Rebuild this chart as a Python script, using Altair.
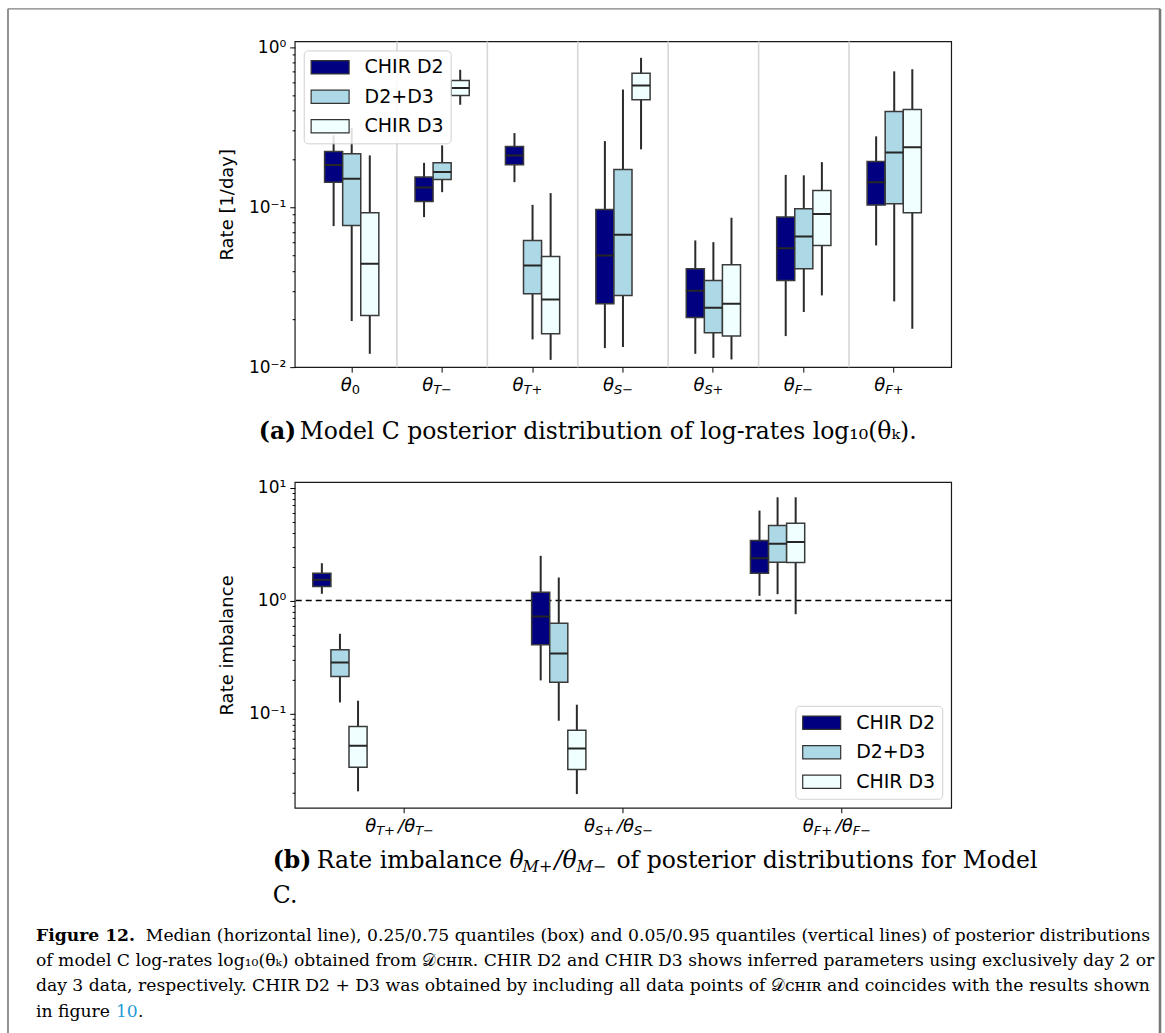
import altair as alt
import pandas as pd

# ---------------- data ----------------
series = ["CHIR D2", "D2+D3", "CHIR D3"]
fill_colors = ["#000080", "#add8e6", "#f0ffff"]

top_params = ["θ0", "θT−", "θT+", "θS−", "θS+", "θF−", "θF+"]
top_subs = ["0", "T−", "T+", "S−", "S+", "F−", "F+"]

top_lo = {
    "CHIR D2": [0.0761, 0.0866, 0.1432, 0.01315, 0.01211, 0.01563, 0.0576],
    "D2+D3": [0.0194, 0.124, 0.0149, 0.01334, 0.01143, 0.0221, 0.02576],
    "CHIR D3": [0.01211, 0.436, 0.0111, 0.2296, 0.01117, 0.02806, 0.01735],
}
top_q1 = {
    "CHIR D2": [0.1432, 0.1085, 0.1838, 0.0249, 0.02046, 0.0348, 0.1029],
    "D2+D3": [0.0768, 0.149, 0.0287, 0.02806, 0.01638, 0.0412, 0.105],
    "CHIR D3": [0.02105, 0.499, 0.01615, 0.469, 0.01563, 0.0576, 0.0921],
}
top_med = {
    "CHIR D2": [0.1831, 0.1328, 0.2104, 0.0499, 0.030, 0.0554, 0.1432],
    "D2+D3": [0.1502, 0.1655, 0.0432, 0.0671, 0.0235, 0.0656, 0.2197],
    "CHIR D3": [0.0442, 0.554, 0.0265, 0.576, 0.0249, 0.0904, 0.237],
}
top_q3 = {
    "CHIR D2": [0.2229, 0.154, 0.2394, 0.0967, 0.0412, 0.0866, 0.193],
    "D2+D3": [0.2155, 0.189, 0.0619, 0.172, 0.0348, 0.0976, 0.396],
    "CHIR D3": [0.0921, 0.619, 0.0492, 0.685, 0.0436, 0.1272, 0.408],
}
top_hi = {
    "CHIR D2": [0.2807, 0.189, 0.290, 0.2585, 0.0619, 0.159, 0.2767],
    "D2+D3": [0.3118, 0.243, 0.1033, 0.544, 0.0604, 0.158, 0.705],
    "CHIR D3": [0.2104, 0.721, 0.1223, 0.857, 0.0858, 0.191, 0.726],
}

bot_params = ["θT+/θT−", "θS+/θS−", "θF+/θF−"]
bot_sub1 = ["T+", "S+", "F+"]
bot_sub2 = ["T−", "S−", "F−"]

bot_lo = {
    "CHIR D2": [1.146, 0.196, 1.10],
    "D2+D3": [0.1251, 0.0861, 1.137],
    "CHIR D3": [0.0204, 0.0193, 0.756],
}
bot_q1 = {
    "CHIR D2": [1.33, 0.4055, 1.745],
    "D2+D3": [0.2126, 0.189, 2.183],
    "CHIR D3": [0.0333, 0.0318, 2.17],
}
bot_med = {
    "CHIR D2": [1.524, 0.722, 2.367],
    "D2+D3": [0.2827, 0.3396, 3.176],
    "CHIR D3": [0.0518, 0.049, 3.30],
}
bot_q3 = {
    "CHIR D2": [1.745, 1.184, 3.396],
    "D2+D3": [0.366, 0.63, 4.61],
    "CHIR D3": [0.0767, 0.0711, 4.83],
}
bot_hi = {
    "CHIR D2": [2.138, 2.487, 6.26],
    "D2+D3": [0.507, 1.598, 8.21],
    "CHIR D3": [0.1295, 0.1194, 8.21],
}
ref_line = [1.0]

top_major = [0.01, 0.1, 1]
top_minor = [0.02, 0.03, 0.04, 0.05, 0.06, 0.07, 0.08, 0.09,
             0.2, 0.3, 0.4, 0.5, 0.6, 0.7, 0.8, 0.9]
bot_major = [0.1, 1, 10]
bot_minor = [0.02, 0.03, 0.04, 0.05, 0.06, 0.07, 0.08, 0.09,
             0.2, 0.3, 0.4, 0.5, 0.6, 0.7, 0.8, 0.9,
             2, 3, 4, 5, 6, 7, 8, 9]


def build_frame(params, lo, q1, med, q3, hi):
    rows = []
    for s in series:
        for i, p in enumerate(params):
            rows.append(dict(cat=p, series=s, lo=lo[s][i], q1=q1[s][i],
                             med=med[s][i], q3=q3[s][i], hi=hi[s][i]))
    return pd.DataFrame(rows)


top_df = build_frame(top_params, top_lo, top_q1, top_med, top_q3, top_hi)
bot_df = build_frame(bot_params, bot_lo, bot_q1, bot_med, bot_q3, bot_hi)

# ---------------- styling ----------------
W, H = 657, 326
SANS = "DejaVu Sans"
CAPF = "DejaVu Serif"
RECT = "M-2,-0.7L2,-0.7L2,0.7L-2,0.7Z"


def y_axis(title, major, minor, label_expr):
    return alt.Axis(
        title=title, values=sorted(major + minor), labelExpr=label_expr,
        labelOverlap=False, grid=False, domain=False,
        tickColor="black", tickWidth=1,
        tickSize={"condition": {"test": "indexof(%s, datum.value) >= 0" % str(major),
                                "value": 5}, "value": 2.6},
        labelFont=SANS, labelFontSize=17, labelColor="black", labelPadding=4,
        titleFont=SANS, titleFontSize=18, titleFontWeight="normal",
        titleColor="black", titlePadding=12,
    )


x_axis = alt.Axis(labels=False, title=None, domain=False, grid=False,
                  tickColor="black", tickSize=5, tickWidth=1)


def legend(orient, offset):
    return alt.Legend(
        orient=orient, offset=offset, title=None, symbolType=RECT,
        symbolSize=361, symbolOffset=9.5, symbolStrokeColor="#333333",
        symbolStrokeWidth=1.2,
        labelFont=SANS, labelFontSize=19, labelColor="black", labelOffset=24,
        padding=6.4, rowPadding=8.5, fillColor="rgba(255,255,255,0.85)",
        strokeColor="#d0d0d0", cornerRadius=4,
    )


def box_layers(df, params, xscale, yscale, yaxis, leg):
    x = alt.X("cat:N", scale=xscale, sort=params, axis=x_axis)
    xo = alt.XOffset("series:N", sort=series,
                     scale=alt.Scale(domain=series, paddingInner=0, paddingOuter=1))
    base = alt.Chart(df)
    whisk = base.mark_rule(color="#2a2a2a", strokeWidth=2).encode(
        x=x, xOffset=xo, y=alt.Y("lo:Q", scale=yscale, axis=yaxis), y2="hi:Q")
    box = base.mark_bar(stroke="#3a3a3a", strokeWidth=1.5).encode(
        x=x, xOffset=xo, y=alt.Y("q1:Q", scale=yscale, axis=yaxis), y2="q3:Q",
        fill=alt.Fill("series:N", sort=series,
                      scale=alt.Scale(domain=series, range=fill_colors), legend=leg))
    med = base.mark_bar(stroke="#262626", strokeWidth=2, fillOpacity=0).encode(
        x=x, xOffset=xo, y=alt.Y("med:Q", scale=yscale, axis=yaxis), y2="med:Q")
    return x, [whisk, box, med]


one = alt.Data(values=[{"k": 0}])


def txt(text, xpx, ypx, size, font=CAPF, weight="normal", color="black",
        style="normal"):
    return alt.Chart(one).mark_text(
        text=text, font=font, fontSize=size, fontWeight=weight, color=color,
        align="left", baseline="alphabetic", fontStyle=style,
    ).encode(x=alt.value(xpx), y=alt.value(ypx))


# ---------------- top panel ----------------
xs_top = alt.Scale(domain=top_params, paddingInner=0, paddingOuter=0.13)
ys_top = alt.Scale(type="log", domain=[0.01, 1.085], nice=False)
ax_top = y_axis("Rate [1/day]", top_major, top_minor,
                "datum.value == 1 ? '10⁰' : datum.value == 0.1 ? '10⁻¹' : "
                "datum.value == 0.01 ? '10⁻²' : ''")
x_top, top_boxes = box_layers(top_df, top_params, xs_top, ys_top, ax_top,
                              legend("top-left", 9))

sep = alt.Chart(pd.DataFrame({"cat": top_params[1:]})).mark_rule(
    color="#d6d6d6", strokeWidth=1.6).encode(
    x=alt.X("cat:N", scale=xs_top, sort=top_params, axis=x_axis, bandPosition=0))

lab_top = alt.Chart(pd.DataFrame({"cat": top_params, "sub": top_subs}))
theta0 = lab_top.transform_filter("datum.sub == '0'").mark_text(
    text="θ", font=SANS, fontStyle="italic", fontSize=18, align="right",
    baseline="alphabetic", dx=0).encode(x=x_top, y=alt.value(H + 24))
sub0 = lab_top.transform_filter("datum.sub == '0'").mark_text(
    font=SANS, fontSize=13, align="left", baseline="alphabetic", dx=0).encode(
    x=x_top, y=alt.value(H + 27), text="sub:N")
theta_r = lab_top.transform_filter("datum.sub != '0'").mark_text(
    text="θ", font=SANS, fontStyle="italic", fontSize=18, align="right",
    baseline="alphabetic", dx=-9).encode(x=x_top, y=alt.value(H + 24))
sub_r = lab_top.transform_filter("datum.sub != '0'").mark_text(
    font=SANS, fontStyle="italic", fontSize=13, align="left",
    baseline="alphabetic", dx=-9).encode(x=x_top, y=alt.value(H + 27), text="sub:N")

# figure frame (decoration)
frame_l = alt.Chart(one).mark_rule(color="#808080", strokeWidth=1.7).encode(
    x=alt.value(-287), y=alt.value(-32.6), y2=alt.value(993))
frame_r = alt.Chart(one).mark_rule(color="#777777", strokeWidth=2.6).encode(
    x=alt.value(866), y=alt.value(-32.6), y2=alt.value(993))
frame_t = alt.Chart(one).mark_rule(color="#808080", strokeWidth=1.4).encode(
    x=alt.value(-287), x2=alt.value(866), y=alt.value(-32.6))

CS = 23.5
cap_a1 = txt("(a)", -36, 398, CS, weight="bold")
cap_a2 = txt("Model C posterior distribution of log-rates log₁₀(θₖ).", 5, 398, CS)

top = alt.layer(sep, *top_boxes, theta0, sub0, theta_r, sub_r,
                frame_l, frame_r, frame_t, cap_a1, cap_a2).properties(width=W, height=H)

# ---------------- bottom panel ----------------
xs_bot = alt.Scale(domain=bot_params, paddingInner=0, paddingOuter=0)
ys_bot = alt.Scale(type="log", domain=[0.0146, 11.2], nice=False)
ax_bot = y_axis("Rate imbalance", bot_major, bot_minor,
                "datum.value == 10 ? '10¹' : datum.value == 1 ? '10⁰' : "
                "datum.value == 0.1 ? '10⁻¹' : ''")
x_bot, bot_boxes = box_layers(bot_df, bot_params, xs_bot, ys_bot, ax_bot,
                              legend("bottom-right", 9))

dash = alt.Chart(pd.DataFrame({"v": ref_line})).mark_rule(
    color="black", strokeWidth=1.5, strokeDash=[6, 4]).encode(
    y=alt.Y("v:Q", scale=ys_bot, axis=ax_bot))

lab_bot = alt.Chart(pd.DataFrame({"cat": bot_params, "s1": bot_sub1, "s2": bot_sub2}))
b_theta1 = lab_bot.mark_text(text="θ", font=SANS, fontStyle="italic", fontSize=18,
                             align="right", baseline="alphabetic", dx=-28).encode(
    x=x_bot, y=alt.value(H + 24))
b_sub1 = lab_bot.mark_text(font=SANS, fontStyle="italic", fontSize=13, align="left",
                           baseline="alphabetic", dx=-28).encode(
    x=x_bot, y=alt.value(H + 27), text="s1:N")
b_theta2 = lab_bot.mark_text(text="/θ", font=SANS, fontStyle="italic", fontSize=18,
                             align="right", baseline="alphabetic", dx=11).encode(
    x=x_bot, y=alt.value(H + 24))
b_sub2 = lab_bot.mark_text(font=SANS, fontStyle="italic", fontSize=13, align="left",
                           baseline="alphabetic", dx=11).encode(
    x=x_bot, y=alt.value(H + 27), text="s2:N")

# caption (b) in pieces
CBY = 386
cb = [
    txt("(b)", -22, CBY, CS, weight="bold"),
    txt("Rate imbalance", 22, CBY, CS),
    txt("θ", 215, CBY, CS, style="italic"),
    txt("M+", 228, CBY + 4, 16, style="italic"),
    txt("/θ", 260, CBY, CS, style="italic"),
    txt("M−", 282, CBY + 4, 16, style="italic"),
    txt("of posterior distributions for Model", 322, CBY, CS),
    txt("C.", -22, CBY + 35, CS),
]

FX = -259
FS = 17.2
FY = 459
fig = [
    txt("Figure 12.", FX, FY, FS, weight="bold"),
    txt("Median (horizontal line), 0.25/0.75 quantiles (box) and 0.05/0.95 quantiles "
        "(vertical lines) of posterior distributions", FX + 110, FY, FS),
    txt("of model C log-rates log₁₀(θₖ) obtained from 𝒟ᴄʜɪʀ. CHIR D2 and CHIR D3 shows "
        "inferred parameters using exclusively day 2 or", FX, FY + 25.3, FS),
    txt("day 3 data, respectively. CHIR D2 + D3 was obtained by including all data "
        "points of 𝒟ᴄʜɪʀ and coincides with the results shown", FX, FY + 50.6, FS),
    txt("in figure", FX, FY + 76, FS),
    txt("10", FX + 80, FY + 76, FS, color="#1f9bd7"),
    txt(".", FX + 102, FY + 76, FS),
]

bottom = alt.layer(dash, *bot_boxes, b_theta1, b_sub1, b_theta2, b_sub2,
                   *cb, *fig).properties(width=W, height=H)

chart = alt.vconcat(
    top, bottom, spacing=115, bounds="flush",
    padding={"left": 6, "top": 6, "right": 3, "bottom": 0},
).resolve_scale(fill="independent").resolve_legend(fill="independent").configure_view(
    stroke="#1a1a1a", strokeWidth=1.2
)

chart.save("out.html", embed_options={"renderer": "svg", "actions": False})
